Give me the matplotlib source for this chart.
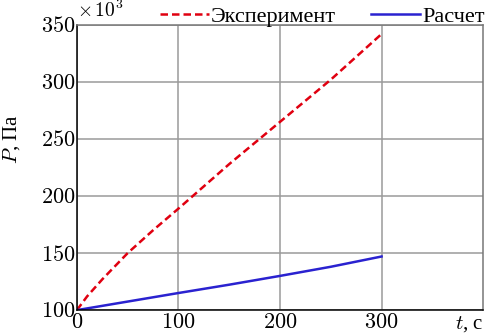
import matplotlib
matplotlib.use("Agg")
import matplotlib.pyplot as plt
from matplotlib.ticker import FuncFormatter

# data (pressure in Pa)
t_exp = [0, 10, 25, 50, 75, 100, 150, 200, 250, 300]
p_exp = [100e3, 112e3, 127e3, 150e3, 170e3, 189e3, 228e3, 265e3, 302e3, 342e3]
t_calc = [0, 50, 100, 150, 200, 250, 300]
p_calc = [100e3, 107.5e3, 115e3, 122.3e3, 130e3, 138e3, 147e3]
xticks = [0, 100, 200, 300]
yticks = [100e3, 150e3, 200e3, 250e3, 300e3, 350e3]

plt.rcParams["font.family"] = ["Liberation Serif", "DejaVu Serif"]
plt.rcParams["mathtext.fontset"] = "cm"

fig = plt.figure(figsize=(4.93, 3.36), dpi=100)
ax = fig.add_axes([0.156, 0.077, 0.824, 0.849])

ax.plot(t_exp, p_exp, color="#e00010", lw=1.8, ls=(0, (3, 1.6)), label="Эксперимент")
ax.plot(t_calc, p_calc, color="#2a22d0", lw=1.8, label="Расчет")

ax.set_xlim(0, 400)
ax.set_ylim(100e3, 350e3)
ax.set_xticks(xticks)
ax.set_yticks(yticks)
ax.xaxis.set_major_formatter(FuncFormatter(lambda v, p: r"$\mathrm{%d}$" % v))
ax.yaxis.set_major_formatter(FuncFormatter(lambda v, p: r"$\mathrm{%d}$" % (v / 1000)))
ax.text(0.0, 1.015, r"$\times\,10^3$", transform=ax.transAxes, ha="left", va="bottom",
        fontsize=14)

ax.grid(True, color="#9a9a9a", lw=1.1)
ax.tick_params(axis="y", length=0, pad=1, labelsize=16)
ax.tick_params(axis="x", length=0, pad=3, labelsize=16)
for side in ["left", "bottom"]:
    ax.spines[side].set_color("black")
    ax.spines[side].set_linewidth(1.1)
for side in ["top", "right"]:
    ax.spines[side].set_color("#777777")
    ax.spines[side].set_linewidth(1.1)

ax.text(-0.16, 0.6, r"$P$, Па", transform=ax.transAxes, rotation=90,
        ha="center", va="center", fontsize=15)
ax.text(1.0, -0.015, r"$t$, с", transform=ax.transAxes, ha="right", va="top",
        fontsize=15)

ax.legend(loc="lower right", bbox_to_anchor=(1.01, 0.985), ncol=2, frameon=False,
          handlelength=2.2, handletextpad=0.1, columnspacing=1.6,
          borderaxespad=0, borderpad=0.1, prop={"size": 16})

fig.savefig("out.png", dpi=100)
